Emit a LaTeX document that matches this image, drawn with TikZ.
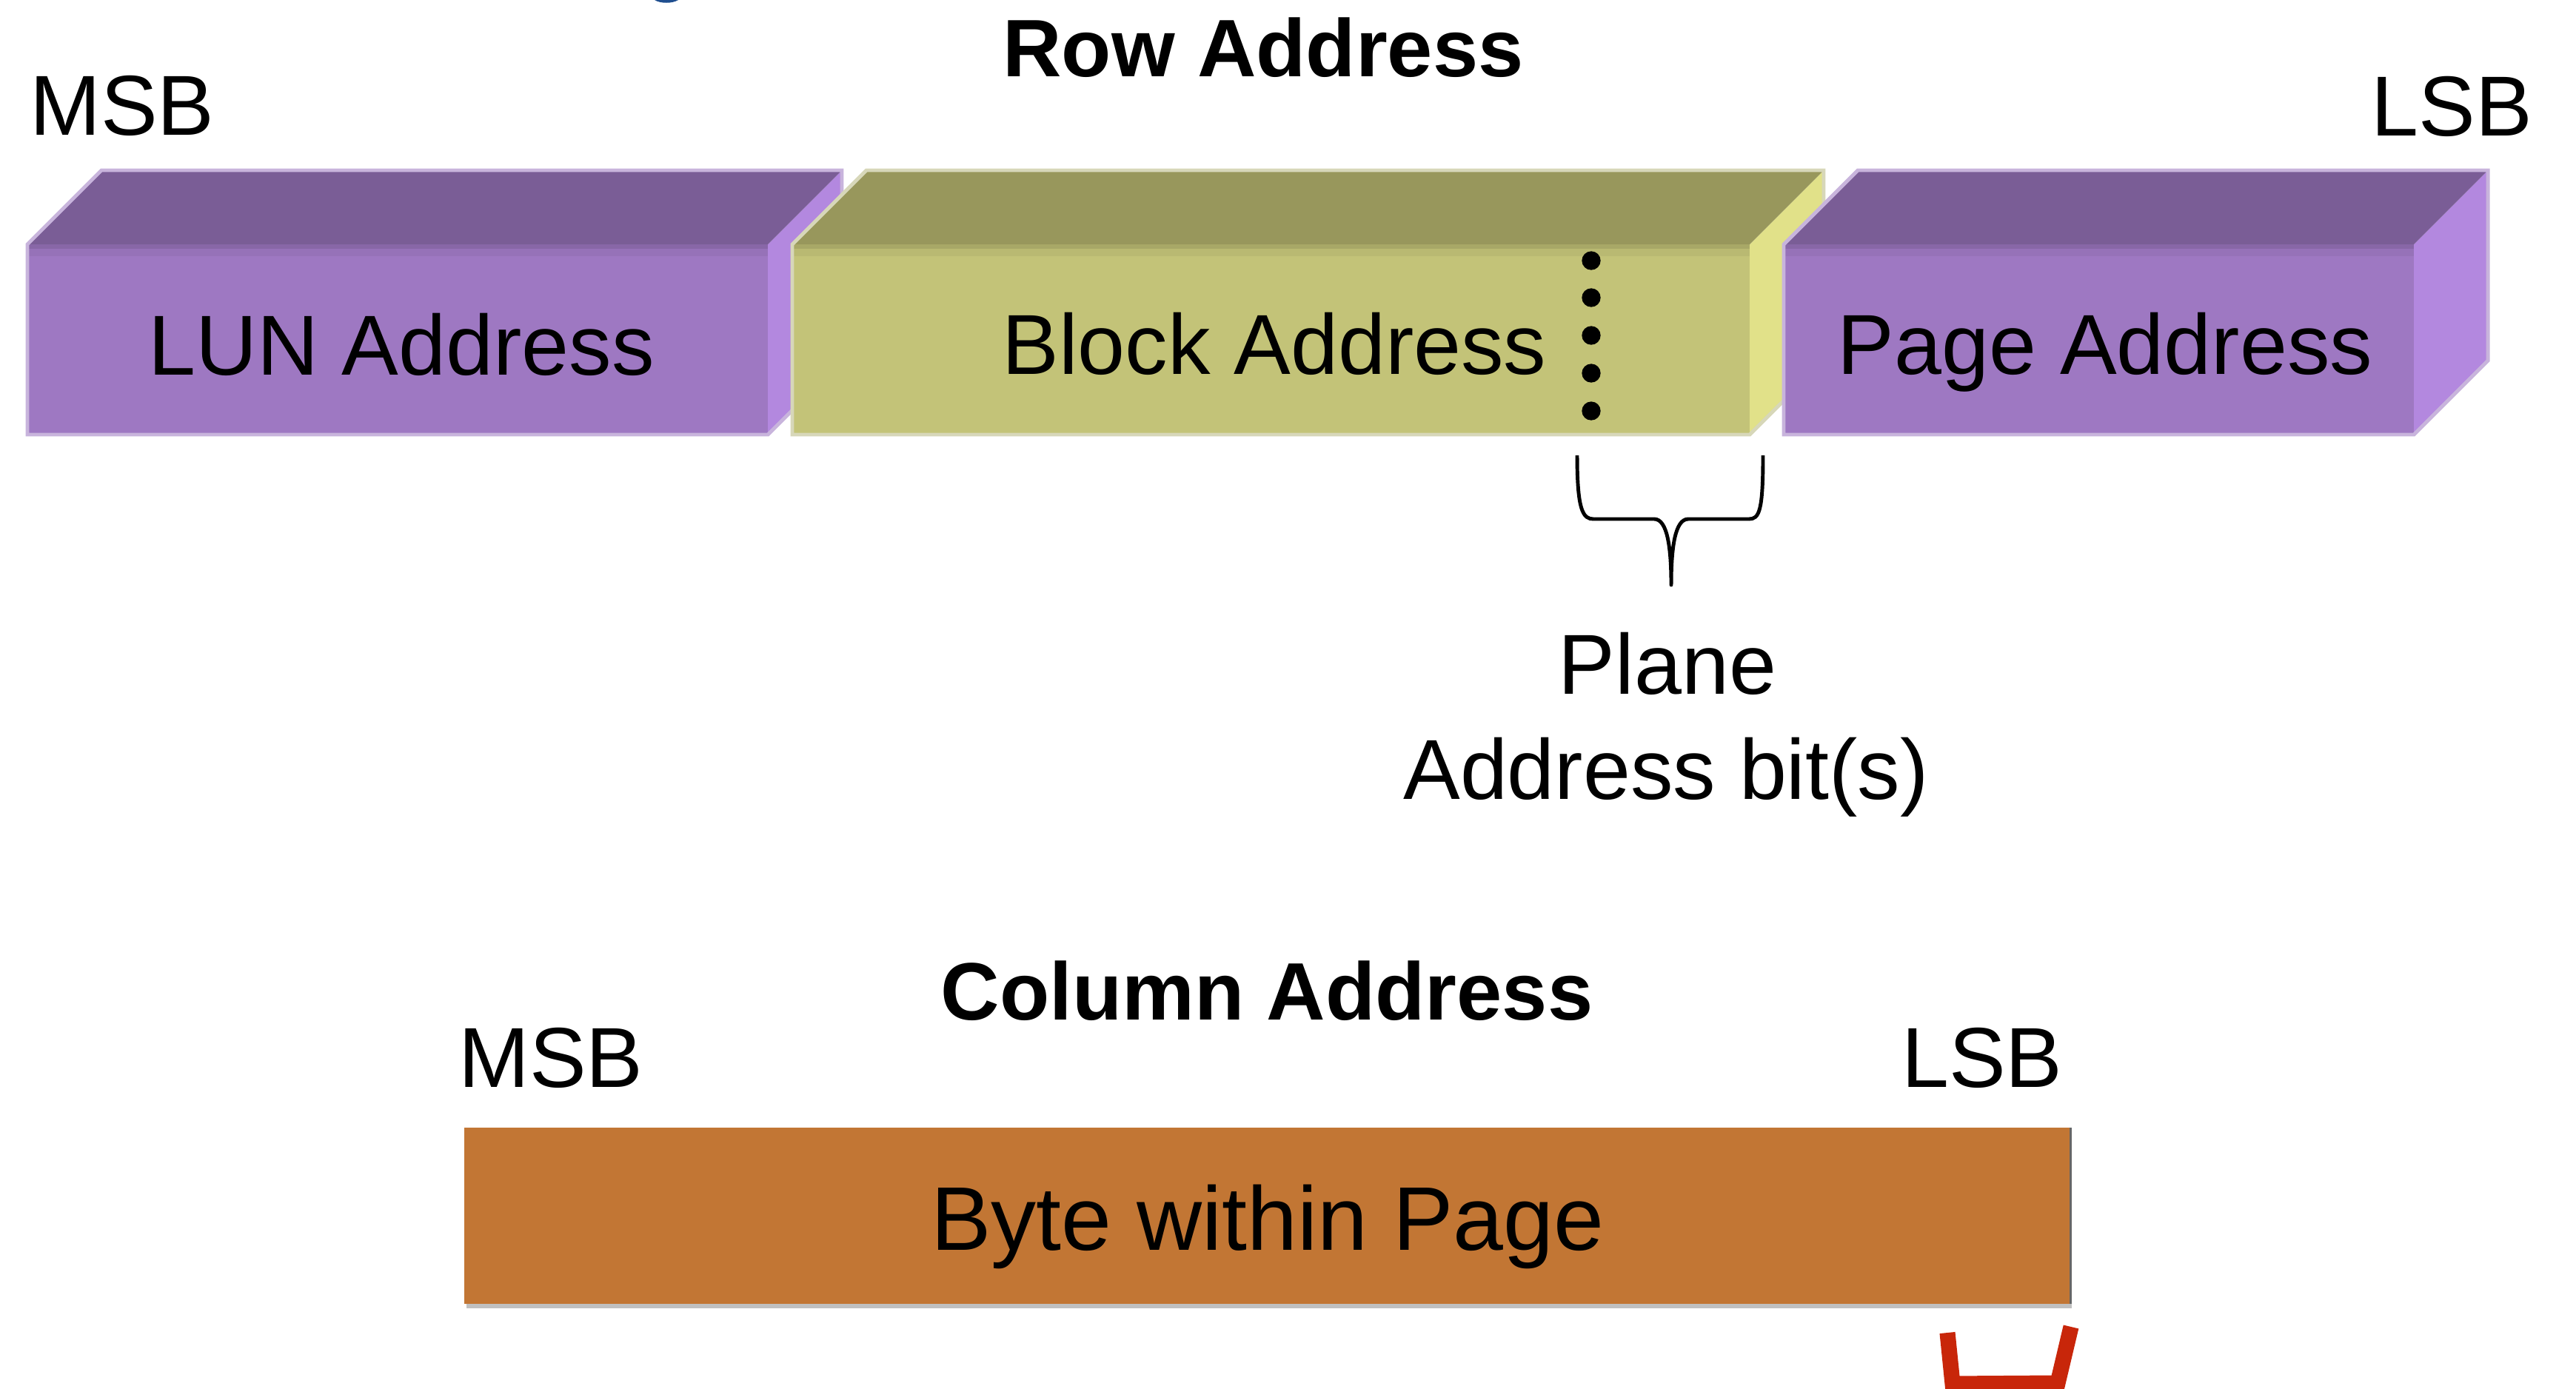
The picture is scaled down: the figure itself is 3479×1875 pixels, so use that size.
\documentclass[tikz,border=0pt]{standalone}
\usepackage{fontspec}
\setmainfont{Liberation Sans}
\usepackage{tikz}
\definecolor{lilfront}{HTML}{9E78C2}
\definecolor{liltop}{HTML}{7A5D96}
\definecolor{lilside}{HTML}{B388DF}
\definecolor{liledge}{HTML}{C8B4DC}
\definecolor{olifront}{HTML}{C3C378}
\definecolor{olitop}{HTML}{98975C}
\definecolor{oliside}{HTML}{E1E189}
\definecolor{oliedge}{HTML}{D7D7B9}
\definecolor{bytefill}{HTML}{C27634}
\definecolor{redmark}{HTML}{C8260A}
\definecolor{cutblue}{HTML}{1F4E8F}
% one 3d slab: left, right, colour prefix
\newcommand{\slab}[3]{%
  \fill[#3side] (#2,330) -- (#2+100,230) -- (#2+100,487) -- (#2,587) -- cycle;
  \fill[#3top] (#1,330) -- (#1+100,230) -- (#2+100,230) -- (#2,330) -- cycle;
  \fill[#3front] (#1,330) rectangle (#2,587);
  \fill[#3front!86!black] (#1,330) rectangle (#2,336);
  \fill[#3front!95!black] (#1,336) rectangle (#2,346);
  \draw[#3edge,line width=1.4pt,line join=miter]
    (#1,330) -- (#1+100,230) -- (#2+100,230) -- (#2+100,487) -- (#2,587) -- (#1,587) -- cycle;
}
\tikzset{
  lbl/.style={anchor=base,inner sep=0pt,font=\fontsize{32.7}{40}\selectfont},
  ttl/.style={anchor=base,inner sep=0pt,font=\bfseries\fontsize{31.3}{38}\selectfont}
}

\begin{document}
\begin{tikzpicture}[x=0.01cm,y=-0.01cm]
\useasboundingbox (0,0) rectangle (3479,1875);
% cut-off glyph at the top
\fill[cutblue] (884,0) .. controls (892,5) and (908,5) .. (916,0) -- cycle;
% row address
\node[ttl] (rowttl) at (1706,103) {Row Address};
\node[lbl] (msbrow) at (165,182) {MSB};
\node[lbl] (lsbrow) at (3311,183) {LSB};
\slab{37}{1037}{lil}
\slab{1070}{2363}{oli}
\slab{2409}{3260}{lil}
\node[lbl] (lun) at (542,506) {LUN Address};
\node[lbl] (block) at (1721,505) {Block Address};
\node[lbl] (page) at (2843,505) {Page Address};
% plane bits
\foreach \y in {352,402,453,504,555}
  \fill (2149,\y) circle[radius=3.6pt];
\draw[line width=1.4pt,line join=round]
  (2130,615) .. controls (2130,690) and (2138,701) .. (2152,701) -- (2234,701)
  .. controls (2252,701) and (2257,740) .. (2257,790)
  .. controls (2257,740) and (2262,701) .. (2280,701) -- (2362,701)
  .. controls (2376,701) and (2381,690) .. (2381,615);
\node[lbl] (plane) at (2252,937) {Plane};
\node[lbl] (planebits) at (2250,1079) {Address bit(s)};
% column address
\node[ttl] (colttl) at (1711,1377) {Column Address};
\node[lbl] (msbcol) at (744,1468) {MSB};
\node[lbl] (lsbcol) at (2677,1468) {LSB};
\fill[black!55,opacity=.45] (630,1528) rectangle (2798,1767);
\fill[black!60] (2795,1523) rectangle (2798,1761);
\fill[bytefill] (627,1523) rectangle (2795,1761);
\node[lbl,font=\fontsize{34.7}{42}\selectfont] (byte) at (1712,1688) {Byte within Page};
% red mark
\draw[redmark,line width=6pt,line join=miter] (2630,1800) -- (2637,1869) -- (2779,1868) -- (2797,1792);
\end{tikzpicture}
\end{document}
